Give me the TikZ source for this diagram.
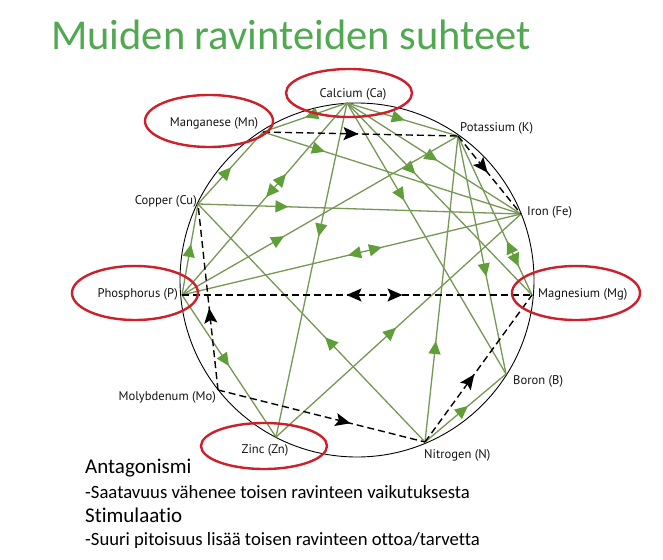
\documentclass[tikz,border=0pt]{standalone}
\usepackage{fontspec}
\setmainfont{Carlito}[Ligatures={NoCommon}]
\newfontfamily\lblfont{PT Sans}
\usetikzlibrary{decorations.markings,arrows.meta}
\definecolor{ttlgreen}{RGB}{80,168,80}
\definecolor{lgreen}{RGB}{118,152,84}
\definecolor{agreen}{RGB}{96,158,58}
\definecolor{ringred}{RGB}{204,32,42}
\definecolor{lbltext}{RGB}{20,20,20}
\tikzset{
  gl/.style={draw=lgreen, line width=1.3pt},
  gm/.style={postaction={decorate, decoration={markings,
     mark=at position #1 with {\arrow[color=agreen]{Triangle[length=13pt,width=12pt]}}}}},
  gmr/.style={postaction={decorate, decoration={markings,
     mark=at position #1 with {\arrowreversed[color=agreen]{Triangle[length=13pt,width=12pt]}}}}},
  dl/.style={draw=black, line width=1.4pt, dash pattern=on 7pt off 4pt},
  dm/.style={postaction={decorate, decoration={markings,
     mark=at position #1 with {\arrow[color=black]{Stealth[length=15pt,width=13pt,inset=3pt]}}}}},
  dmr/.style={postaction={decorate, decoration={markings,
     mark=at position #1 with {\arrowreversed[color=black]{Stealth[length=15pt,width=13pt,inset=3pt]}}}}},
  ring/.style={draw=ringred, line width=2.4pt},
  lbl/.style={inner sep=0pt, text=lbltext, font=\lblfont\fontsize{12.6}{14}\selectfont},
  bodytxt/.style={inner sep=0pt, anchor=base west, text=black},
}
\begin{document}
\begin{tikzpicture}[x=1pt,y=-1pt]
\useasboundingbox (0,0) rectangle (663,559);
\fill[white] (0,0) rectangle (663,559);

% title
\node[inner sep=0pt, anchor=base west, text=ttlgreen, font=\fontsize{42.5}{46}\selectfont] (title) at (51,50) {Muiden ravinteiden suhteet};

% rim
\draw[line width=0.9pt] (357,280) circle[radius=177];

% element points
\coordinate (Ca) at (347,103);
\coordinate (Mn) at (263,132);
\coordinate (K) at (458,136);
\coordinate (Fe) at (521,214);
\coordinate (Cu) at (198,204);
\coordinate (P) at (182,295);
\coordinate (Mg) at (532,295);
\coordinate (Mo) at (218,390);
\coordinate (Zn) at (276,437);
\coordinate (N) at (425,442);
\coordinate (B) at (506,374);

% antagonism (green)
\draw[gl, gm=0.5] (Ca) -- (Mn);
\draw[gl, gm=0.51] (Cu) -- (Mn);
\draw[gl, gm=0.24] (Mn) -- (Fe);
\draw[gl, gm=0.52] (Ca) -- (K);
\draw[gl, gm=0.52] (Ca) -- (Fe);
\draw[gl, gm=0.37] (Ca) -- (Mg);
\draw[gl, gm=0.36] (Ca) -- (B);
\draw[gl, gmr=0.37, gm=0.49] (Ca) -- (P);
\draw[gl, gm=0.28] (Cu) -- (Fe);
\draw[gl, gm=0.40] (Ca) -- (Zn);
\draw[gl, gm=0.37] (P) -- (K);
\draw[gl, gmr=0.49, gm=0.59] (P) -- (Fe);
\draw[gl, gm=0.56] (P) -- (Cu);
\draw[gl, gmr=0.66, gm=0.82] (K) -- (Mg);
\draw[gl, gm=0.59] (K) -- (B);
\draw[gl, gm=0.44] (N) -- (Cu);
\draw[gl, gm=0.49] (Zn) -- (Fe);
\draw[gl, gm=0.33] (N) -- (K);
\draw[gl, gm=0.50] (P) -- (Zn);
\draw[gl, gm=0.53] (N) -- (B);

% stimulation (dashed)
\draw[dl, dm=0.49] (Mn) -- (K);
\draw[dl, dm=0.47] (K) -- (Fe);
\draw[dl, dmr=0.47, dm=0.63] (P) -- (Mg);
\draw[dl, dm=0.44] (Mo) -- (Cu);
\draw[dl, dm=0.64] (Mo) -- (N);
\draw[dl, dm=0.46] (N) -- (Mg);

% red rings
\draw[ring] (349,93) ellipse[x radius=63, y radius=24];
\draw[ring] (209,121) ellipse[x radius=64, y radius=26];
\draw[ring] (135,293) ellipse[x radius=63, y radius=27];
\draw[ring] (576,293) ellipse[x radius=64, y radius=27];
\draw[ring] (264,446) ellipse[x radius=63, y radius=23];

% labels
\node[lbl, anchor=mid] (tCa) at (353,95) {Calcium (Ca)};
\node[lbl, anchor=mid] (tMn) at (214,124) {Manganese (Mn)};
\node[lbl, anchor=mid west] (tK) at (460,129) {Potassium (K)};
\node[lbl, anchor=mid west] (tFe) at (527,213) {Iron (Fe)};
\node[lbl, anchor=mid east] (tCu) at (197,202) {Copper (Cu)};
\node[lbl, anchor=mid east] (tP) at (178,295) {Phosphorus (P)};
\node[lbl, anchor=mid west] (tMg) at (538,295) {Magnesium (Mg)};
\node[lbl, anchor=mid west] (tB) at (513,382) {Boron (B)};
\node[lbl, anchor=mid west] (tN) at (424,456) {Nitrogen (N)};
\node[lbl, anchor=mid east] (tMo) at (216,398) {Molybdenum (Mo)};
\node[lbl, anchor=mid] (tZn) at (265,451) {Zinc (Zn)};

% explanation text
\node[bodytxt, font=\fontsize{21}{24}\selectfont] (ant) at (85,473) {Antagonismi};
\node[bodytxt, font=\fontsize{18.7}{22}\selectfont] (antd) at (85,498) {-Saatavuus vähenee toisen ravinteen vaikutuksesta};
\node[bodytxt, font=\fontsize{21}{24}\selectfont] (sti) at (85,522) {Stimulaatio};
\node[bodytxt, font=\fontsize{18.7}{22}\selectfont] (stid) at (85,545) {-Suuri pitoisuus lisää toisen ravinteen ottoa/tarvetta};
\end{tikzpicture}
\end{document}
